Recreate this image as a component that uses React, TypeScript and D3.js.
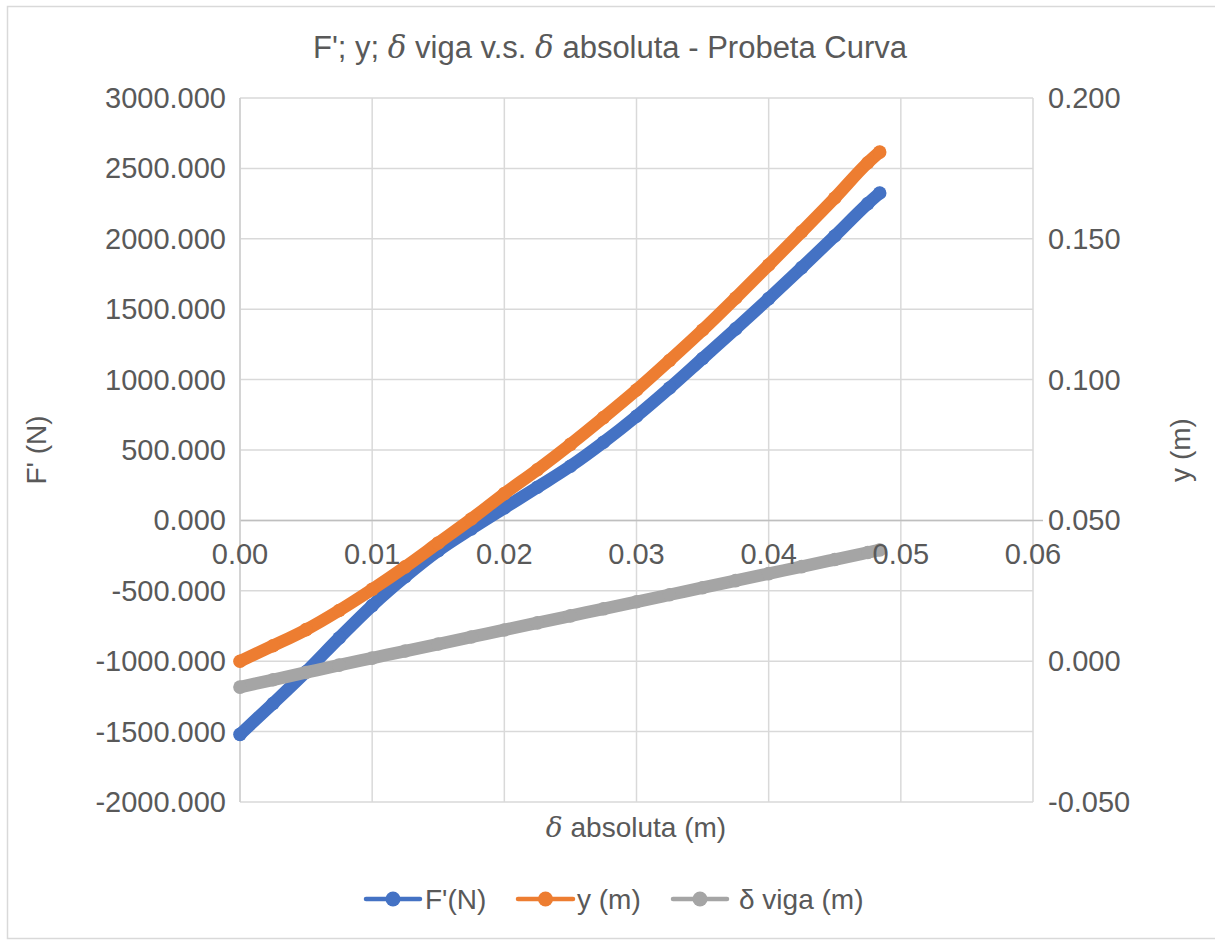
import React from "react";
import * as d3 from "d3";

const deltaAbs = [0, 0.0025, 0.005, 0.0075, 0.01, 0.0125, 0.015, 0.0175, 0.02, 0.0225, 0.025, 0.0275, 0.03, 0.0325, 0.035, 0.0375, 0.04, 0.0425, 0.045, 0.0475, 0.0484];
const fPrime = [-1520, -1300, -1075, -835, -605, -400, -215, -60, 88, 235, 385, 555, 740, 940, 1150, 1360, 1575, 1795, 2020, 2250, 2325];
const yM = [0.0, 0.0055, 0.0112, 0.018, 0.0255, 0.0335, 0.042, 0.0505, 0.0595, 0.068, 0.077, 0.0865, 0.0963, 0.1068, 0.1176, 0.129, 0.1407, 0.1525, 0.1645, 0.177, 0.1808];
const deltaViga = [-0.0092, -0.0066, -0.004, -0.0014, 0.0011, 0.0036, 0.0061, 0.0086, 0.0111, 0.0136, 0.0161, 0.0186, 0.0211, 0.0236, 0.0261, 0.0286, 0.0311, 0.0336, 0.0361, 0.0386, 0.0395];

const xTicks = [0, 0.01, 0.02, 0.03, 0.04, 0.05, 0.06];
const leftTicks = [-2000, -1500, -1000, -500, 0, 500, 1000, 1500, 2000, 2500, 3000];
const rightTicks = [-0.05, 0, 0.05, 0.1, 0.15, 0.2];

const W = 1215;
const H = 940;
const plot = { left: 240, right: 1033, top: 98, bottom: 802 };
const font = "'Liberation Sans', Arial, sans-serif";
const textColor = "#595959";
const gridColor = "#d9d9d9";

const colors = { f: "#4472c4", y: "#ed7d31", v: "#a5a5a5" };

export default function App() {
  const x = d3.scaleLinear().domain([0, 0.06]).range([plot.left, plot.right]);
  const yL = d3.scaleLinear().domain([-2000, 3000]).range([plot.bottom, plot.top]);
  const yR = d3.scaleLinear().domain([-0.05, 0.2]).range([plot.bottom, plot.top]);

  const series = [
    { name: "F'(N)", vals: fPrime, scale: yL, color: colors.f },
    { name: "y (m)", vals: yM, scale: yR, color: colors.y },
    { name: "δ viga (m)", vals: deltaViga, scale: yR, color: colors.v },
  ];

  const legendPos = [
    { x1: 366, x2: 420, tx: 425 },
    { x1: 518, x2: 573, tx: 577 },
    { x1: 673, x2: 727, tx: 739 },
  ];

  return (
    <svg width={W} height={H} style={{ position: "absolute", left: 0, top: 0 }} fontFamily={font}>
      <rect x={0} y={0} width={W} height={H} fill="#fff" />
      <rect x={7.5} y={6.5} width={W} height={932} fill="none" stroke={gridColor} strokeWidth={1.5} />

      {/* gridlines */}
      {xTicks.map((t) => (
        <line key={"gx" + t} x1={x(t)} x2={x(t)} y1={plot.top} y2={plot.bottom} stroke={gridColor} strokeWidth={1.5} />
      ))}
      {leftTicks.map((t) => (
        <line key={"gy" + t} x1={plot.left} x2={plot.right} y1={yL(t)} y2={yL(t)} stroke={gridColor} strokeWidth={1.5} />
      ))}
      {/* x axis at F' = 0 */}
      <line x1={plot.left} x2={plot.right + 10} y1={yL(0)} y2={yL(0)} stroke="#bfbfbf" strokeWidth={1.5} />
      <line x1={plot.left} x2={plot.left} y1={plot.top} y2={plot.bottom} stroke="#cfcfcf" strokeWidth={1.5} />

      {/* series */}
      {series.map((s) => {
        const pts: [number, number][] = deltaAbs.map((d, i) => [x(d), s.scale(s.vals[i])]);
        const path = d3.line().curve(d3.curveMonotoneX)(pts) || "";
        return (
          <g key={s.name}>
            <path d={path} fill="none" stroke={s.color} strokeWidth={12.5} strokeLinecap="round" strokeLinejoin="round" />
            {pts.map((p, i) => (
              <circle key={i} cx={p[0]} cy={p[1]} r={6.8} fill={s.color} />
            ))}
          </g>
        );
      })}

      {/* tick labels */}
      {leftTicks.map((t) => (
        <text key={"lt" + t} x={226} y={yL(t) + 10} textAnchor="end" fontSize={29} fill={textColor}>
          {t.toFixed(3)}
        </text>
      ))}
      {rightTicks.map((t) => (
        <text key={"rt" + t} x={1048} y={yR(t) + 10} textAnchor="start" fontSize={29} fill={textColor}>
          {t.toFixed(3)}
        </text>
      ))}
      {xTicks.map((t) => (
        <text key={"xt" + t} x={x(t)} y={yL(0) + 44} textAnchor="middle" fontSize={29} fill={textColor}>
          {t.toFixed(2)}
        </text>
      ))}

      {/* titles */}
      <text x={610} y={58} textAnchor="middle" fontSize={31} fill={textColor}>
        F'; y; <tspan fontStyle="italic" fontFamily="'DejaVu Serif', serif">δ</tspan> viga v.s.{" "}
        <tspan fontStyle="italic" fontFamily="'DejaVu Serif', serif">δ</tspan> absoluta - Probeta Curva
      </text>
      <text transform={`translate(46,${(plot.top + plot.bottom) / 2}) rotate(-90)`} textAnchor="middle" fontSize={28} fill={textColor}>
        F' (N)
      </text>
      <text transform={`translate(1190,${(plot.top + plot.bottom) / 2}) rotate(-90)`} textAnchor="middle" fontSize={28} fill={textColor}>
        y (m)
      </text>
      <text x={636} y={837} textAnchor="middle" fontSize={28} fill={textColor}>
        <tspan fontStyle="italic" fontFamily="'DejaVu Serif', serif">δ</tspan> absoluta (m)
      </text>

      {/* legend */}
      {series.map((s, i) => {
        const lp = legendPos[i];
        return (
          <g key={"lg" + i}>
            <line x1={lp.x1} x2={lp.x2} y1={899} y2={899} stroke={s.color} strokeWidth={4.5} strokeLinecap="round" />
            <circle cx={(lp.x1 + lp.x2) / 2} cy={899} r={7.5} fill={s.color} />
            <text x={lp.tx} y={909} fontSize={28} fill={textColor}>
              {s.name}
            </text>
          </g>
        );
      })}
    </svg>
  );
}
